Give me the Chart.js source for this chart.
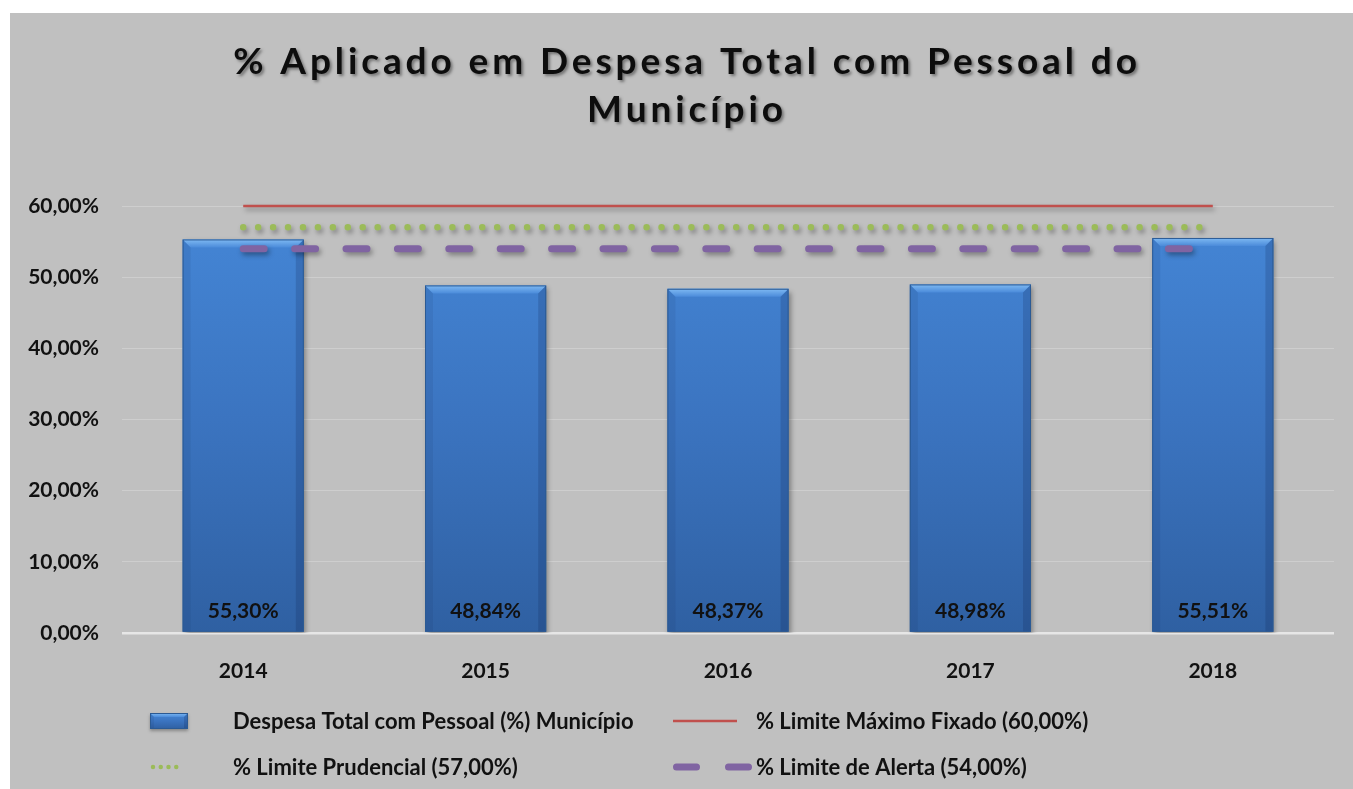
<!DOCTYPE html>
<html lang="pt">
<head>
<meta charset="utf-8">
<script src="https://cdn.jsdelivr.net/npm/chart.js@4"></script>
<style>
    html, body { margin: 0; padding: 0; background: #ffffff; }
    #caixa { position: absolute; left: 10px; top: 13px; width: 1343px; height: 776px; background: #c0c0c0; }
</style>
</head>
<body>
<div id="caixa"><canvas id="myChart"></canvas></div>
<script>
// Dados do gráfico
const anos = ['2014', '2015', '2016', '2017', '2018'];
const despesaPessoal = [55.30, 48.84, 48.37, 48.98, 55.51];
const limiteMaximo = [60, 60, 60, 60, 60];
const limitePrudencial = [57, 57, 57, 57, 57];
const limiteAlerta = [54, 54, 54, 54, 54];
const ticksY = [0, 10, 20, 30, 40, 50, 60];
const tituloLinhas = ['% Aplicado em Despesa Total com Pessoal do', 'Município'];
const rotulos = [
    'Despesa Total com Pessoal (%) Município',
    '% Limite Máximo Fixado (60,00%)',
    '% Limite Prudencial (57,00%)',
    '% Limite de Alerta (54,00%)'
];

const fonte = 'Lato, "Open Sans", sans-serif';
const formatar = v => v.toFixed(2).replace('.', ',') + '%';

function gradienteBarra(ctx, topo, base) {
    const g = ctx.createLinearGradient(0, topo, 0, base);
    g.addColorStop(0, '#4587d7');
    g.addColorStop(0.5, '#3b74c0');
    g.addColorStop(1, '#2f60a2');
    return g;
}

// bisel simples no topo e nas laterais de uma barra
function desenharBisel(ctx, esq, dir, topo, base, b) {
    ctx.beginPath();
    ctx.moveTo(esq, topo); ctx.lineTo(dir, topo); ctx.lineTo(dir - b, topo + b); ctx.lineTo(esq + b, topo + b);
    ctx.closePath();
    const g = ctx.createLinearGradient(0, topo, 0, topo + b);
    g.addColorStop(0, '#7fbaf3');
    g.addColorStop(1, '#4b8bda');
    ctx.fillStyle = g;
    ctx.fill();
    ctx.beginPath();
    ctx.moveTo(dir, topo); ctx.lineTo(dir, base); ctx.lineTo(dir - b, base); ctx.lineTo(dir - b, topo + b);
    ctx.closePath();
    ctx.fillStyle = 'rgba(10,30,70,0.18)';
    ctx.fill();
    ctx.beginPath();
    ctx.moveTo(esq, topo); ctx.lineTo(esq + b, topo + b); ctx.lineTo(esq + b, base); ctx.lineTo(esq, base);
    ctx.closePath();
    ctx.fillStyle = 'rgba(10,30,70,0.08)';
    ctx.fill();
    ctx.strokeStyle = '#2b5a94';
    ctx.lineWidth = 1;
    ctx.strokeRect(esq + 0.5, topo + 0.5, dir - esq - 1, base - topo - 1);
}

// sombra das séries + bisel das barras
const sombras = {
    id: 'sombras',
    beforeDatasetDraw(chart, args) {
        const ctx = chart.ctx;
        ctx.save();
        ctx.shadowColor = 'rgba(0,0,0,0.35)';
        ctx.shadowBlur = 5;
        ctx.shadowOffsetX = 2;
        ctx.shadowOffsetY = 3;
    },
    afterDatasetDraw(chart, args) {
        const ctx = chart.ctx;
        ctx.restore();
        if (args.meta.type !== 'bar') return;
        args.meta.data.forEach(bar => {
            const p = bar.getProps(['x', 'y', 'base', 'width'], true);
            desenharBisel(ctx, p.x - p.width / 2, p.x + p.width / 2, p.y, p.base, 8);
        });
    }
};

// valores dentro das barras, junto à base
const valores = {
    id: 'valores',
    afterDatasetsDraw(chart) {
        const ctx = chart.ctx;
        const meta = chart.getDatasetMeta(0);
        ctx.save();
        ctx.font = 'bold 21px ' + fonte;
        ctx.fillStyle = '#111111';
        ctx.textAlign = 'center';
        ctx.textBaseline = 'middle';
        meta.data.forEach((bar, i) => {
            ctx.fillText(formatar(chart.data.datasets[0].data[i]), bar.x, chart.chartArea.bottom - 22);
        });
        ctx.restore();
    }
};

// título com espaçamento entre letras
const titulo = {
    id: 'titulo',
    afterDraw(chart) {
        const ctx = chart.ctx;
        ctx.save();
        ctx.font = 'bold 37px ' + fonte;
        ctx.letterSpacing = '3.9px';
        ctx.fillStyle = '#0d0d0d';
        ctx.textAlign = 'center';
        ctx.textBaseline = 'alphabetic';
        ctx.shadowColor = 'rgba(0,0,0,0.4)';
        ctx.shadowBlur = 3;
        ctx.shadowOffsetX = 2;
        ctx.shadowOffsetY = 2;
        tituloLinhas.forEach((linha, i) => ctx.fillText(linha, 677, 61 + i * 48));
        ctx.restore();
    }
};

// legenda em duas colunas
const legenda = {
    id: 'legenda',
    afterDraw(chart) {
        const ctx = chart.ctx;
        const ds = chart.data.datasets;
        const cols = [140, 663];
        const linhas = [708, 754];
        ctx.save();
        ds.forEach((d, i) => {
            const x = cols[i % 2];
            const y = linhas[Math.floor(i / 2)];
            if (d.type === 'bar') {
                ctx.save();
                ctx.shadowColor = 'rgba(0,0,0,0.3)';
                ctx.shadowBlur = 3;
                ctx.shadowOffsetY = 2;
                ctx.fillStyle = gradienteBarra(ctx, y - 8, y + 8);
                ctx.fillRect(x, y - 8, 38, 16);
                ctx.restore();
                desenharBisel(ctx, x, x + 38, y - 8, y + 8, 4);
            } else {
                ctx.save();
                ctx.strokeStyle = d.borderColor;
                ctx.lineCap = d.borderCapStyle || 'butt';
                ctx.beginPath();
                if (d.borderDash && d.borderDash[0] === 0) {
                    ctx.lineWidth = 4.5;
                    ctx.setLineDash([0, 7.75]);
                    ctx.moveTo(x + 3, y); ctx.lineTo(x + 34, y);
                } else if (d.borderDash) {
                    ctx.lineWidth = d.borderWidth;
                    ctx.setLineDash([20, 32]);
                    ctx.moveTo(x + 3.5, y); ctx.lineTo(x + 79.5, y);
                } else {
                    ctx.lineWidth = d.borderWidth;
                    ctx.moveTo(x, y); ctx.lineTo(x + 64, y);
                }
                ctx.stroke();
                ctx.restore();
            }
            ctx.font = 'bold 22px ' + fonte;
            ctx.fillStyle = '#111111';
            ctx.textAlign = 'left';
            ctx.textBaseline = 'middle';
            ctx.fillText(d.label, x + 83, y + 1);
        });
        ctx.restore();
    }
};

const ctx = document.getElementById('myChart').getContext('2d');
const myChart = new Chart(ctx, {
    data: {
        labels: anos,
        datasets: [
            {
                type: 'bar',
                label: rotulos[0],
                data: despesaPessoal,
                order: 1,
                backgroundColor: c => {
                    const a = c.chart.chartArea;
                    if (!a) return '#3b74c0';
                    return gradienteBarra(c.chart.ctx, a.top, a.bottom);
                },
                borderWidth: 0,
                categoryPercentage: 1,
                barPercentage: 0.5
            },
            {
                type: 'line',
                label: rotulos[1],
                data: limiteMaximo,
                order: 0,
                borderColor: '#c0504d',
                borderWidth: 2.5,
                pointRadius: 0,
                clip: false
            },
            {
                type: 'line',
                label: rotulos[2],
                data: limitePrudencial,
                order: 0,
                borderColor: '#9bbb59',
                borderWidth: 6.5,
                borderDash: [0, 14.94],
                borderCapStyle: 'round',
                pointRadius: 0,
                clip: false
            },
            {
                type: 'line',
                label: rotulos[3],
                data: limiteAlerta,
                order: 0,
                borderColor: '#8064a2',
                borderWidth: 7,
                borderDash: [21, 30.4],
                borderCapStyle: 'round',
                pointRadius: 0,
                clip: false
            }
        ]
    },
    options: {
        responsive: true,
        maintainAspectRatio: false,
        animation: false,
        layout: { padding: { top: 193, right: 19, bottom: 96, left: 0 } },
        plugins: {
            legend: { display: false },
            title: { display: false },
            tooltip: { enabled: false }
        },
        scales: {
            x: {
                grid: { display: false },
                border: { display: false },
                ticks: { color: '#111111', font: { family: fonte, size: 21, weight: 'bold' }, padding: 18 },
                afterFit: s => { s.height = 60; }
            },
            y: {
                min: 0,
                max: 60,
                afterBuildTicks: s => { s.ticks = ticksY.map(v => ({ value: v })); },
                grid: {
                    drawTicks: false,
                    color: c => c.tick.value === 0 ? '#e6e6e6' : '#cecece',
                    lineWidth: c => c.tick.value === 0 ? 2.5 : 1
                },
                border: { display: false },
                ticks: {
                    color: '#111111',
                    font: { family: fonte, size: 21, weight: 'bold' },
                    padding: 23,
                    callback: v => formatar(v)
                },
                afterFit: s => { s.width = 112; }
            }
        }
    },
    plugins: [sombras, valores, titulo, legenda]
});
</script>
</body>
</html>
